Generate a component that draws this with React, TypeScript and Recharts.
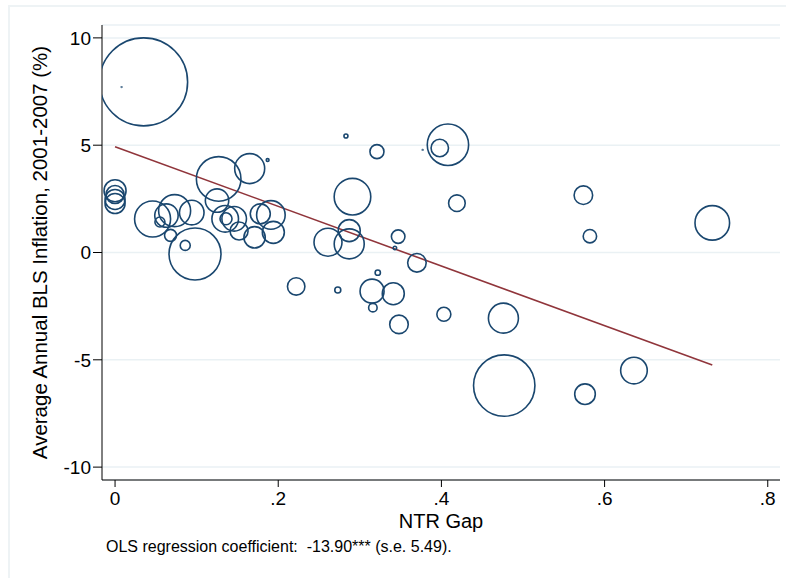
import { ScatterChart, Scatter, XAxis, YAxis, ZAxis, CartesianGrid, ReferenceLine } from "recharts";

// NTR gap (x), BLS inflation 2001-2007 (y) and bubble weight per industry
const NTR_GAP = [
  0.035, 0.008, 0.0, 0.0, 0.0, 0.0, 0.046, 0.055, 0.063, 0.073,
  0.068, 0.086, 0.098, 0.094, 0.127, 0.165, 0.187, 0.125, 0.135, 0.136,
  0.146, 0.152, 0.171, 0.178, 0.191, 0.194, 0.283, 0.321, 0.408, 0.398,
  0.377, 0.291, 0.419, 0.261, 0.287, 0.287, 0.347, 0.343, 0.370, 0.322,
  0.222, 0.273, 0.315, 0.341, 0.316, 0.348, 0.403, 0.476, 0.477, 0.576,
  0.636, 0.574, 0.582, 0.732,
];
const INFLATION = [
  7.95, 7.71, 2.88, 2.70, 2.47, 2.28, 1.56, 1.42, 1.72, 1.95,
  0.80, 0.33, -0.07, 1.86, 3.43, 3.91, 4.31, 2.42, 1.57, 1.57,
  1.57, 1.00, 0.71, 1.80, 1.75, 0.94, 5.43, 4.70, 5.02, 4.87,
  4.78, 2.60, 2.30, 0.48, 0.40, 1.02, 0.74, 0.21, -0.48, -0.94,
  -1.58, -1.75, -1.80, -1.92, -2.57, -3.35, -2.88, -3.06, -6.20, -6.60,
  -5.50, 2.67, 0.76, 1.38,
];
const WEIGHT = [
  1936, 0.1, 121, 81, 100, 100, 324, 25, 137, 256,
  36, 25, 676, 151, 497, 225, 2, 137, 177, 36,
  151, 81, 114, 100, 204, 121, 4, 49, 428, 76,
  0.1, 335, 69, 196, 225, 121, 46, 3, 86, 7,
  76, 9, 144, 121, 18, 86, 49, 225, 942, 106,
  177, 86, 45, 299,
];

// OLS fit: inflation = 4.93 - 13.90 * gap
const FIT_INTERCEPT = 4.93;
const FIT_SLOPE = -13.9;

const X_TICKS = [0, 0.2, 0.4, 0.6, 0.8];
const Y_TICKS = [-10, -5, 0, 5, 10];

const points = NTR_GAP.map((x, i) => ({ x, y: INFLATION[i], w: WEIGHT[i] }));
const xMax = Math.max(...NTR_GAP);
const fitSegment = [
  { x: 0, y: FIT_INTERCEPT },
  { x: xMax, y: FIT_INTERCEPT + FIT_SLOPE * xMax },
];

const FONT = "'Liberation Sans', Arial, sans-serif";
const NAVY = "#1a476f";

const fmtX = (v: number) => (v === 0 ? "0" : String(v).replace(/^0/, ""));

export default function App() {
  return (
    <div style={{ position: "absolute", left: 0, top: 0, width: 786, height: 578, background: "#fff", fontFamily: FONT }}>
      <div
        style={{
          position: "absolute", left: 8, top: 5, width: 778, height: 573,
          borderTop: "2px solid #eef3f5", borderLeft: "2px solid #eef3f5", boxSizing: "border-box",
        }}
      />
      <ScatterChart
        width={786}
        height={578}
        margin={{ top: 25, right: 6, bottom: 48, left: 0 }}
        style={{ position: "absolute", left: 0, top: 0 }}
      >
        <CartesianGrid vertical={false} stroke="#eaf1f4" strokeWidth={1.5} />
        <XAxis
          type="number"
          dataKey="x"
          domain={[-0.016, 0.815]}
          ticks={X_TICKS}
          tickFormatter={fmtX}
          allowDataOverflow
          height={50}
          tickSize={7}
          tickMargin={5}
          stroke="#000"
          tick={{ fill: "#000", fontSize: 19, fontFamily: FONT }}
          label={{ value: "NTR Gap", position: "insideBottom", offset: 2, fill: "#000", fontSize: 20, fontFamily: FONT }}
        />
        <YAxis
          type="number"
          dataKey="y"
          domain={[-10.6, 10.6]}
          ticks={Y_TICKS}
          allowDataOverflow
          width={102}
          tickSize={9}
          tickMargin={2}
          stroke="#000"
          tick={{ fill: "#000", fontSize: 19, fontFamily: FONT }}
          label={{
            value: "Average Annual BLS Inflation, 2001-2007 (%)",
            angle: -90,
            position: "insideLeft",
            offset: 40,
            fill: "#000",
            fontSize: 20.5,
            fontFamily: FONT,
            style: { textAnchor: "middle" },
          }}
        />
        <ZAxis type="number" dataKey="w" domain={[0, 2000]} range={[0, 2000 * Math.PI]} />
        <Scatter
          data={points}
          shape="circle"
          fill="none"
          stroke={NAVY}
          strokeWidth={1.6}
          isAnimationActive={false}
        />
        <ReferenceLine segment={fitSegment} stroke="#90353b" strokeWidth={1.6} ifOverflow="visible" />
      </ScatterChart>
      <div
        style={{
          position: "absolute", left: 106, top: 538, fontSize: 16, lineHeight: "17px",
          whiteSpace: "pre", color: "#000", fontFamily: FONT,
        }}
      >
        {"OLS regression coefficient:  -13.90*** (s.e. 5.49)."}
      </div>
    </div>
  );
}
